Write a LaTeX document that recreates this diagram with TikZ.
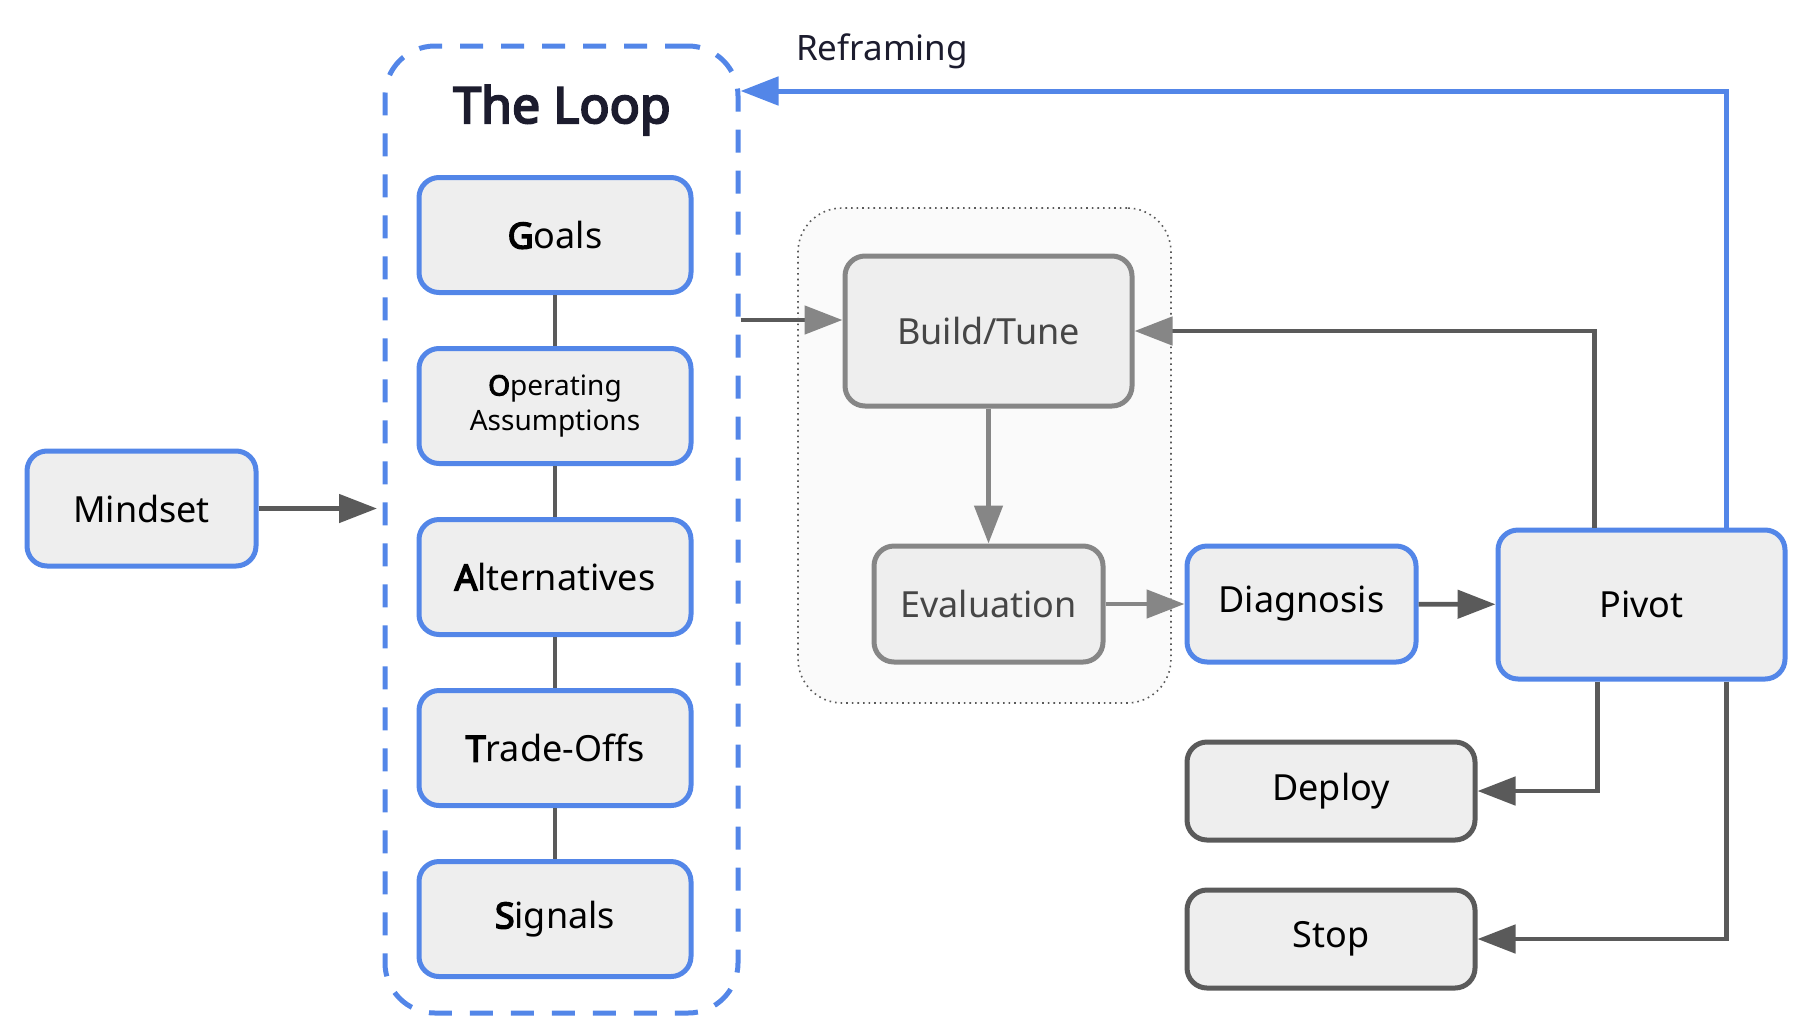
\documentclass[tikz,border=0pt]{standalone}
\usepackage{fontspec}
\setmainfont{Noto Sans}[AutoFakeBold=4]
\usetikzlibrary{arrows.meta}
\definecolor{loopblue}{RGB}{83,134,232}
\definecolor{boxfill}{RGB}{238,238,238}
\definecolor{darkline}{RGB}{90,90,90}
\definecolor{grayline}{RGB}{134,134,134}
\definecolor{graytext}{RGB}{70,70,70}
\definecolor{navy}{RGB}{28,28,46}
\definecolor{groupfill}{RGB}{250,250,250}
\tikzstyle{stage}=[draw=loopblue, fill=boxfill, line width=2.5pt, rounded corners=10pt, minimum width=136pt, minimum height=57.5pt, align=center, font=\fontsize{18}{21}\selectfont, text=black]
\tikzstyle{tuning}=[stage, draw=grayline, text=graytext]
\tikzstyle{outcome}=[stage, draw=darkline]
\tikzstyle{loopbox}=[draw=loopblue, dashed, dash pattern=on 11.5pt off 9pt, line width=2.5pt, rounded corners=25pt, minimum width=176.5pt, minimum height=483.5pt]
\tikzstyle{group}=[draw=darkline, dotted, line width=0.8pt, fill=groupfill, rounded corners=22pt, minimum width=186.5pt, minimum height=247.5pt]
\tikzstyle{link}=[darkline, line width=2.4pt]
\tikzstyle{flow}=[link, -{Triangle[length=19pt, width=14pt]}]
\tikzstyle{softflow}=[link, -{Triangle[length=19pt, width=14pt, color=grayline]}]
\tikzstyle{reframe}=[loopblue, line width=2.5pt, -{Triangle[length=19pt, width=14pt]}]

\begin{document}
\begin{tikzpicture}[x=0.5pt, y=-0.5pt]
	\useasboundingbox (0,0) rectangle (1814,1034);

	\node[group] (tune) at (984.5,455.5) {};
	\node[loopbox] (loop) at (561.5,529.5) {};
	\node[text=navy, font=\fontsize{25}{29}\selectfont\bfseries] (title) at (562,110) {The Loop};

	\node[stage] (goals) at (555,235) {\textbf{G}oals};
	\node[stage, font=\fontsize{14}{17.5}\selectfont] (assume) at (555,406) {\textbf{O}perating\\Assumptions};
	\node[stage] (alts) at (555,577) {\textbf{A}lternatives};
	\node[stage] (trade) at (555,748) {\textbf{T}rade-Offs};
	\node[stage] (signals) at (555,919) {\textbf{S}ignals};

	\node[stage, minimum width=114.5pt] (mindset) at (141.5,508.5) {Mindset};
	\coordinate (mindend) at (377,508.5);

	\node[tuning, minimum width=143.5pt, minimum height=75pt] (build) at (988.5,331) {Build/Tune};
	\node[tuning, minimum width=114.5pt, minimum height=58pt] (eval) at (988.5,604) {Evaluation};
	\node[stage, minimum width=114.5pt, minimum height=58pt] (diag) at (1301.5,604) {Diagnosis};
	\node[stage, minimum width=143.5pt, minimum height=74.5pt] (pivot) at (1641.5,604.5) {Pivot};
	\node[outcome, minimum width=144pt, minimum height=49pt] (deploy) at (1331,791) {Deploy};
	\node[outcome, minimum width=144pt, minimum height=49pt] (stop) at (1331,939) {Stop};

	\node[anchor=west, text=navy, font=\fontsize{17.5}{20}\selectfont] (reframing) at (789,51) {Reframing};
	\coordinate (reframecorner) at (1726,91);

	\draw[link] (goals) -- (assume);
	\draw[link] (assume) -- (alts);
	\draw[link] (alts) -- (trade);
	\draw[link] (trade) -- (signals);

	\draw[flow] (mindset) -- (mindend);
	\draw[softflow] ([yshift=5.5pt]build.west -| loop.east) -- ([yshift=5.5pt]build.west);
	\draw[softflow, grayline] (build) -- (eval);
	\draw[softflow, grayline] (eval) -- (diag);
	\draw[flow] (diag) -- (pivot);
	\draw[softflow] ([xshift=-23.5pt]pivot.north) |- (build.east);
	\draw[flow] ([xshift=-22pt]pivot.south) |- (deploy.east);
	\draw[flow] ([xshift=42.5pt]pivot.south) |- (stop.east);
	\draw[reframe] (pivot.north -| reframecorner) -- (reframecorner) -- (reframecorner -| loop.east);
\end{tikzpicture}
\end{document}
